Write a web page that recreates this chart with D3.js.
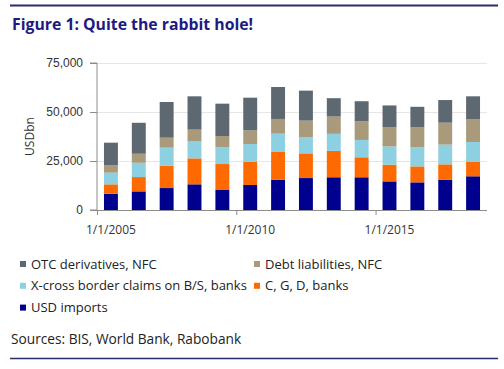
<!doctype html>
<html>
<head>
<script src="https://cdnjs.cloudflare.com/ajax/libs/d3/7.8.5/d3.min.js"></script>
<style>
body { margin: 0; background: #fff; }
svg { font-family: "Open Sans", "Noto Sans", sans-serif; }
.grid line { stroke: #e6e6e6; }
.axis text { font-size: 12px; fill: #333; }
.axis path, .axis line { stroke: #8c8c8c; }
</style>
</head>
<body>
<svg width="504" height="369"></svg>
<script>
var years = [2005, 2006, 2007, 2008, 2009, 2010, 2011, 2012, 2013, 2014, 2015, 2016, 2017, 2018]

// stacked from bottom to top
var usdImports  = [8300, 9500, 11200, 13100, 10200, 12750, 15500, 16300, 16700, 16700, 14600, 14100, 15500, 17200]
var cgdBanks    = [4800, 7300, 11400, 13250, 13250, 11900, 14100, 12600, 13450, 10200, 8500, 8150, 7800, 7300]
var xBorder     = [5950, 7300, 9200, 8650, 8500, 9000, 9350, 8350, 8700, 8850, 9350, 9850, 10050, 10200]
var debtNfc     = [3750, 4600, 5100, 6000, 5800, 7000, 7500, 8350, 8850, 9550, 9850, 10200, 11200, 11550]
var otcNfc      = [11550, 15800, 18200, 17000, 16500, 16650, 16300, 15300, 9350, 10200, 11050, 10350, 11550, 11750]

var seriesNames = ["USD imports", "C, G, D, banks", "X-cross border claims on B/S, banks", "Debt liabilities, NFC", "OTC derivatives, NFC"]
var seriesColors = ["#00008f", "#ff6a00", "#8dd0e2", "#a89a7a", "#5e6870"]
var yTicks = [0, 25000, 50000, 75000]
var xTickYears = [2005, 2010, 2015]

var table = years.map(function(y, i) {
  return {year: y, s0: usdImports[i], s1: cgdBanks[i], s2: xBorder[i], s3: debtNfc[i], s4: otcNfc[i]}
})
var keys = ["s0", "s1", "s2", "s3", "s4"]
var stacked = d3.stack().keys(keys)(table)

var svg = d3.select("svg")
var pLeft = 97, pRight = 487, pTop = 63, pBottom = 210

var x = d3.scaleBand().domain(years).range([pLeft, pRight]).paddingInner(0.5).paddingOuter(0.25)
var y = d3.scaleLinear().domain([0, 75000]).range([pBottom, pTop])

// frame lines
svg.append("line").attr("x1", 10).attr("x2", 498).attr("y1", 5.5).attr("y2", 5.5)
  .attr("stroke", "#2b2a6b").attr("stroke-width", 2)
svg.append("line").attr("x1", 10).attr("x2", 498).attr("y1", 358.5).attr("y2", 358.5)
  .attr("stroke", "#2b2a6b").attr("stroke-width", 1.5)

svg.append("text").attr("x", 12).attr("y", 30)
  .style("font-size", "15.8px").style("font-weight", "bold").style("fill", "#1f1a80")
  .text("Figure 1: Quite the rabbit hole!")

// gridlines
svg.append("g").attr("class", "grid")
  .selectAll("line").data(yTicks.slice(1)).enter().append("line")
  .attr("x1", pLeft).attr("x2", pRight)
  .attr("y1", d => y(d) + 0.5).attr("y2", d => y(d) + 0.5)

// bars
svg.append("g").selectAll("g").data(stacked).enter().append("g")
  .attr("fill", (d, i) => seriesColors[i])
  .selectAll("rect").data(d => d).enter().append("rect")
  .attr("x", d => x(d.data.year))
  .attr("width", x.bandwidth())
  .attr("y", d => y(d[1]))
  .attr("height", d => y(d[0]) - y(d[1]))

// y axis
var yAxis = d3.axisLeft(y).tickValues(yTicks).tickSize(7).tickPadding(7)
  .tickFormat(d3.format(","))
svg.append("g").attr("class", "axis").attr("transform", "translate(" + pLeft + ",0)")
  .call(yAxis)
  .call(g => g.select(".domain").attr("d", "M-7," + y(75000) + "H0V" + y(0) + "H-7"))

svg.append("text")
  .attr("transform", "translate(34," + ((pTop + pBottom) / 2) + ") rotate(-90)")
  .attr("text-anchor", "middle")
  .style("font-size", "12px").style("fill", "#333")
  .text("USDbn")

// x axis: ticks at start of each year band, labels under the bar
var step = x.step()
var bandStart = d => x(d) + x.bandwidth() / 2 - step / 2
var xg = svg.append("g").attr("class", "axis")
xg.append("line").attr("x1", pLeft).attr("x2", pRight)
  .attr("y1", pBottom + 0.5).attr("y2", pBottom + 0.5)
xg.selectAll(".tk").data(xTickYears).enter().append("line")
  .attr("x1", d => bandStart(d) + 0.5).attr("x2", d => bandStart(d) + 0.5)
  .attr("y1", pBottom).attr("y2", pBottom + 5)
xg.selectAll("text").data(xTickYears).enter().append("text")
  .attr("x", d => x(d) + x.bandwidth() / 2)
  .attr("y", pBottom + 24)
  .attr("text-anchor", "middle")
  .text(d => "1/1/" + d)

// legend
var legendOrder = [4, 3, 2, 1, 0]
var lg = svg.append("g").selectAll("g").data(legendOrder).enter().append("g")
  .attr("transform", (d, i) => "translate(" + (i % 2 ? 254 : 20) + "," + (264 + Math.floor(i / 2) * 21.8) + ")")
lg.append("rect").attr("x", 0).attr("y", -3).attr("width", 6).attr("height", 6)
  .attr("fill", d => seriesColors[d])
lg.append("text").attr("x", 11).attr("y", 0).attr("dy", "0.35em")
  .style("font-size", "13px").style("fill", "#222")
  .text(d => seriesNames[d])

svg.append("text").attr("x", 11).attr("y", 344)
  .style("font-size", "13.7px").style("fill", "#222")
  .text("Sources: BIS, World Bank, Rabobank")
</script>
</body>
</html>
